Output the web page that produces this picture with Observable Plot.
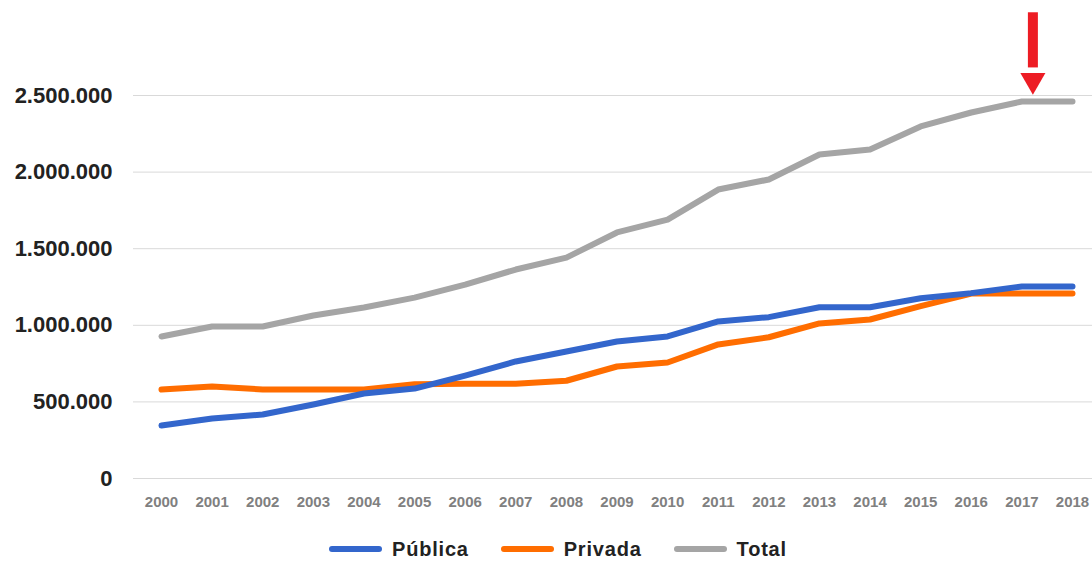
<!DOCTYPE html>
<html>
<head>
<meta charset="utf-8">
<script src="https://cdn.jsdelivr.net/npm/d3@7"></script>
<script src="https://cdn.jsdelivr.net/npm/@observablehq/plot@0.6"></script>
<style>
  html, body { margin: 0; padding: 0; background: #fff; }
  body { width: 1092px; height: 563px; overflow: hidden; font-family: "Liberation Sans", Arial, sans-serif; }
  #legend { display: flex; align-items: center; height: 48px; padding-left: 329px; box-sizing: border-box; }
  .item { display: flex; align-items: center; margin-right: 32px; }
  .sw { width: 53px; height: 6px; border-radius: 3px; margin-right: 10px; }
  .lbl { font-size: 20px; font-weight: bold; color: #222; letter-spacing: 0.8px; }
</style>
</head>
<body>
<div id="chart"></div>
<div id="legend"></div>
<script>
const years = ["2000","2001","2002","2003","2004","2005","2006","2007","2008","2009","2010","2011","2012","2013","2014","2015","2016","2017","2018"];
const publica = [346000, 392000, 418000, 483000, 555000, 587000, 672000, 764000, 829000, 894000, 927000, 1025000, 1053000, 1118000, 1118000, 1177000, 1210000, 1253000, 1253000];
const privada = [581000, 600000, 581000, 581000, 581000, 615000, 618000, 618000, 638000, 731000, 757000, 875000, 922000, 1012000, 1038000, 1125000, 1207000, 1207000, 1207000];
const total = [927000, 992000, 992000, 1064000, 1116000, 1181000, 1266000, 1364000, 1442000, 1606000, 1690000, 1886000, 1952000, 2115000, 2147000, 2298000, 2389000, 2461000, 2461000];
const seriesNames = ["Pública", "Privada", "Total"];
const seriesColors = ["#3366cc", "#ff6d00", "#a5a5a5"];
const yTicks = [0, 500000, 1000000, 1500000, 2000000, 2500000];
const arrowYear = ["2017"];
const arrowColor = "#ed1c24";

const seriesValues = [publica, privada, total];
const rows = [];
seriesNames.forEach((s, i) => years.forEach((y, j) => rows.push({year: y, value: seriesValues[i][j], series: s})));

const fmt = d3.formatLocale({decimal: ",", thousands: ".", grouping: [3], currency: ["", ""]}).format(",d");

const W = 1092, H = 525;
const plot = Plot.plot({
  width: W,
  height: H,
  marginLeft: 133,
  marginRight: 0,
  marginTop: 95,
  marginBottom: 47,
  style: {fontFamily: "'Liberation Sans', Arial, sans-serif", background: "#fff", overflow: "visible"},
  x: {type: "point", domain: years, range: [161, 1072], padding: 0, round: false, label: null},
  y: {domain: [0, 2500000], label: null},
  marks: [
    Plot.ruleY(yTicks, {stroke: "#d9d9d9", strokeWidth: 1}),
    Plot.axisY(yTicks, {tickSize: 0, tickPadding: 21, tickFormat: fmt, fontSize: 22, fontWeight: "bold", fill: "#222", label: null}),
    Plot.axisX(years, {tickSize: 0, tickPadding: 18, fontSize: 15, fontWeight: "bold", fill: "#808080", label: null}),
    ...["Total", "Privada", "Pública"].map(name => Plot.line(rows.filter(r => r.series === name), {
      x: "year", y: "value", stroke: seriesColors[seriesNames.indexOf(name)], strokeWidth: 6,
      strokeLinecap: "round", strokeLinejoin: "round", curve: "linear"
    })),
    Plot.ruleX(arrowYear, {y1: 3040000, y2: 2680000, dx: 11, stroke: arrowColor, strokeWidth: 10}),
    Plot.dot(arrowYear, {x: d => d, y: 2580000, dx: 11, dy: -3, symbol: "triangle", rotate: 180, r: 9.3, fill: arrowColor, stroke: "none"})
  ]
});
document.getElementById("chart").appendChild(plot);

const legend = document.getElementById("legend");
seriesNames.forEach((s, i) => {
  const it = document.createElement("div");
  it.className = "item";
  it.innerHTML = `<div class="sw" style="background:${seriesColors[i]}"></div><span class="lbl">${s}</span>`;
  legend.appendChild(it);
});
</script>
</body>
</html>
